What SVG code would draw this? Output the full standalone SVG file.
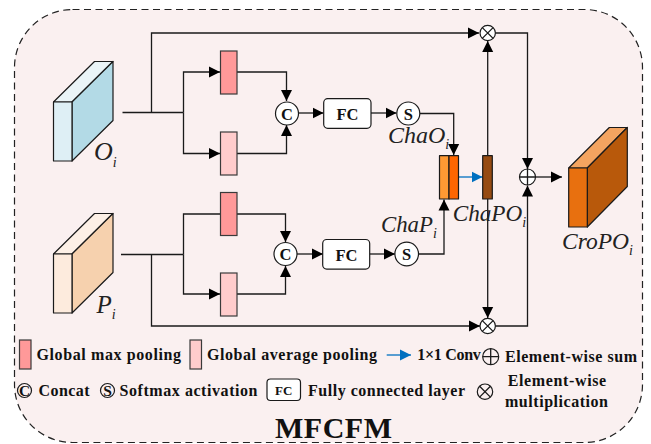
<svg xmlns="http://www.w3.org/2000/svg" width="651" height="444" viewBox="0 0 651 444">
<style>
.ln{fill:none;stroke:#1a1a1a;stroke-width:1.3}
.arr{marker-end:url(#a)}
.blue{fill:none;stroke:#0070c0;stroke-width:1.3;marker-end:url(#b)}
.box{stroke:#3a3a3a;stroke-width:1.2}
.maxp{fill:#ff9999}
.avgp{fill:#ffcccc}
.cube{stroke:#1a1a1a;stroke-width:1.2;stroke-linejoin:round}
.circ{fill:#fff;stroke:#1a1a1a;stroke-width:1.2}
.open{fill:none;stroke:#1a1a1a;stroke-width:1.2}
.fc{fill:#fff;stroke:#1a1a1a;stroke-width:1.2}
.tb{font-family:"Liberation Serif",serif;font-weight:bold;fill:#111}
.ti{font-family:"Liberation Serif",serif;font-style:italic;fill:#222}
.lg{font-size:16px}
.sym{font-size:15.5px;text-anchor:middle}
.nd{font-size:16.5px;text-anchor:middle}
.sub{font-size:14px}
</style>
<defs>
<marker id="a" markerUnits="userSpaceOnUse" markerWidth="12" markerHeight="12" refX="11" refY="6" orient="auto"><path d="M0,0.5L11,6L0,11.5Z" fill="#000"/></marker>
<marker id="b" markerUnits="userSpaceOnUse" markerWidth="12" markerHeight="12" refX="11" refY="6" orient="auto"><path d="M0,0.5L11,6L0,11.5Z" fill="#0070c0"/></marker>
</defs>
<rect id="frame" x="14.5" y="9.5" width="628" height="433" rx="58" ry="58" fill="#faf0f0" stroke="#222" stroke-width="1.2" stroke-dasharray="7 4.5"/>
<g id="connectors">
<path class="ln" d="M122.5,112.5H183.5"/>
<path class="ln arr" d="M151.5,112.5V33H479"/>
<path class="ln arr" d="M183.5,112.5V72H220"/>
<path class="ln arr" d="M183.5,112.5V153.5H220"/>
<path class="ln arr" d="M237,72H286.5V101"/>
<path class="ln arr" d="M237,153.5H286.5V125"/>
<path class="ln arr" d="M298.5,113H323.5"/>
<path class="ln arr" d="M371,113H396.5"/>
<path class="ln arr" d="M420,113.5H453.7V155"/>
<path class="ln" d="M121,254.5H183.5"/>
<path class="ln" d="M183.5,254.5V214H220"/>
<path class="ln arr" d="M183.5,254.5V294H220"/>
<path class="ln arr" d="M237,214H285.5V242"/>
<path class="ln arr" d="M237,294H285.5V266"/>
<path class="ln arr" d="M297,254H323"/>
<path class="ln arr" d="M369.5,254H395"/>
<path class="ln arr" d="M418.5,254H444V199.5"/>
<path class="ln arr" d="M151.5,254.5V326H480"/>
<path class="blue" d="M458.5,177H482.5"/>
<path class="ln arr" d="M487.7,156V41"/>
<path class="ln arr" d="M487.7,199V318"/>
<path class="ln arr" d="M495.5,33H527.5V169"/>
<path class="ln arr" d="M495.5,326H527.5V185.5"/>
<path class="ln arr" d="M535.5,177H562"/>
</g>
<g id="node-oi">
<path class="cube" fill="#eaf4f7" d="M53.5,102L94.5,61.5H113L72,102Z"/>
<path class="cube" fill="#b3dae6" d="M72,102L113,61.5V120.5L72,161Z"/>
<rect class="cube" fill="#deeff5" x="53.5" y="102" width="18.5" height="59"/>
<text class="ti" x="94" y="160" font-size="26">O<tspan class="sub" dy="7">i</tspan></text>
</g>
<g id="node-pi">
<path class="cube" fill="#fdf0e6" d="M53.5,254L94.5,213.5H113L72,254Z"/>
<path class="cube" fill="#f6d1ae" d="M72,254L113,213.5V272.5L72,313Z"/>
<rect class="cube" fill="#fdebdd" x="53.5" y="254" width="18.5" height="59"/>
<text class="ti" x="96.5" y="313.3" font-size="25">P<tspan class="sub" dy="6">i</tspan></text>
</g>
<g id="node-max1"><rect class="box maxp" x="220.5" y="51" width="16.5" height="43"/></g>
<g id="node-avg1"><rect class="box avgp" x="220.5" y="132" width="16.5" height="43"/></g>
<g id="node-max2"><rect class="box maxp" x="220.5" y="192.5" width="16.5" height="43"/></g>
<g id="node-avg2"><rect class="box avgp" x="220.5" y="273" width="16.5" height="43"/></g>
<g id="node-c1"><circle class="circ" cx="287" cy="113.5" r="11.5"/><text class="tb nd" x="287" y="119.5">C</text></g>
<g id="node-c2"><circle class="circ" cx="285.5" cy="254" r="11.5"/><text class="tb nd" x="285.5" y="260">C</text></g>
<g id="node-fc1"><rect class="fc" x="323.7" y="98.7" width="47.3" height="29.6" rx="4"/><text class="tb nd" x="347.5" y="119.5">FC</text></g>
<g id="node-fc2"><rect class="fc" x="322.7" y="239.5" width="47" height="29.6" rx="4"/><text class="tb nd" x="346.5" y="260.5">FC</text></g>
<g id="node-s1"><circle class="circ" cx="408.3" cy="113.5" r="11.5"/><text class="tb nd" x="408.3" y="119.5">S</text></g>
<g id="node-s2"><circle class="circ" cx="406.7" cy="254" r="11.8"/><text class="tb nd" x="406.7" y="260">S</text></g>
<g id="node-chao"><text class="ti" x="388" y="143" font-size="24">ChaO<tspan class="sub" dy="6">i</tspan></text></g>
<g id="node-chap"><text class="ti" x="381" y="232" font-size="22.8">ChaP<tspan class="sub" dy="6">i</tspan></text></g>
<g id="node-concat">
<rect class="cube" fill="#ff9933" x="439.5" y="155.7" width="9.5" height="43.3"/>
<rect class="cube" fill="#ff6600" x="449" y="155.7" width="9.5" height="43.3"/>
</g>
<g id="node-chapo">
<rect class="cube" fill="#964b12" x="482.7" y="155.7" width="9.6" height="43.3"/>
<text class="ti" x="452.7" y="221" font-size="23.2">ChaPO<tspan class="sub" dy="5.5">i</tspan></text>
</g>
<g id="node-mul1"><circle class="circ" cx="487.7" cy="33" r="7.7"/><path class="ln" d="M482.3,27.6L493.1,38.4M493.1,27.6L482.3,38.4"/></g>
<g id="node-mul2"><circle class="circ" cx="487.7" cy="326" r="7.7"/><path class="ln" d="M482.3,320.6L493.1,331.4M493.1,320.6L482.3,331.4"/></g>
<g id="node-sum"><circle class="circ" cx="527.5" cy="177" r="8"/><path class="ln" d="M519.5,177H535.5M527.5,169V185"/></g>
<g id="node-cropo">
<path class="cube" fill="#f4a460" d="M568.7,168L609.3,127.5H627.3L587.3,168Z"/>
<path class="cube" fill="#b8590b" d="M587.3,168L627.3,127.5V186.5L587.3,227Z"/>
<rect class="cube" fill="#e8700f" x="568.7" y="168" width="18.6" height="59"/>
<text class="ti" x="562" y="249.3" font-size="23.5">CroPO<tspan class="sub" dy="6">i</tspan></text>
</g>
<g id="legend">
<rect class="box maxp" x="19.5" y="340" width="11.5" height="29"/>
<text class="tb lg" x="36.5" y="360" textLength="144.5">Global max pooling</text>
<rect class="box avgp" x="190" y="340" width="11.5" height="29"/>
<text class="tb lg" x="207" y="360" textLength="170">Global average pooling</text>
<path class="blue" d="M386.7,355H411"/>
<text class="tb lg" x="417.3" y="360" textLength="63.5">1×1 Conv</text>
<circle class="open" cx="490.7" cy="356.7" r="8"/><path class="ln" d="M482.7,356.7H498.7M490.7,348.7V364.7"/>
<text class="tb lg" x="505" y="361.5" textLength="132">Element-wise sum</text>
<circle class="open" cx="24.5" cy="390.5" r="7"/><text class="tb sym" x="24.5" y="395.5">C</text>
<text class="tb lg" x="38.5" y="396" textLength="51">Concat</text>
<circle class="open" cx="107.5" cy="390.5" r="7"/><text class="tb sym" x="107.5" y="395.5">S</text>
<text class="tb lg" x="119.5" y="396" textLength="138">Softmax activation</text>
<rect class="fc" x="267" y="379" width="33.5" height="21.5" rx="3.5"/><text class="tb" x="283.7" y="394.5" font-size="13" text-anchor="middle">FC</text>
<text class="tb lg" x="308" y="396" textLength="157">Fully connected layer</text>
<circle class="open" cx="485" cy="391.7" r="7.7"/><path class="ln" d="M479.6,386.3L490.4,397.1M490.4,386.3L479.6,397.1"/>
<text class="tb lg" x="507.7" y="385.7" textLength="98.5">Element-wise</text>
<text class="tb lg" x="505" y="407" textLength="103">multiplication</text>
</g>
<text id="title" class="tb" x="275" y="437.5" font-size="30" textLength="117">MFCFM</text>
</svg>
